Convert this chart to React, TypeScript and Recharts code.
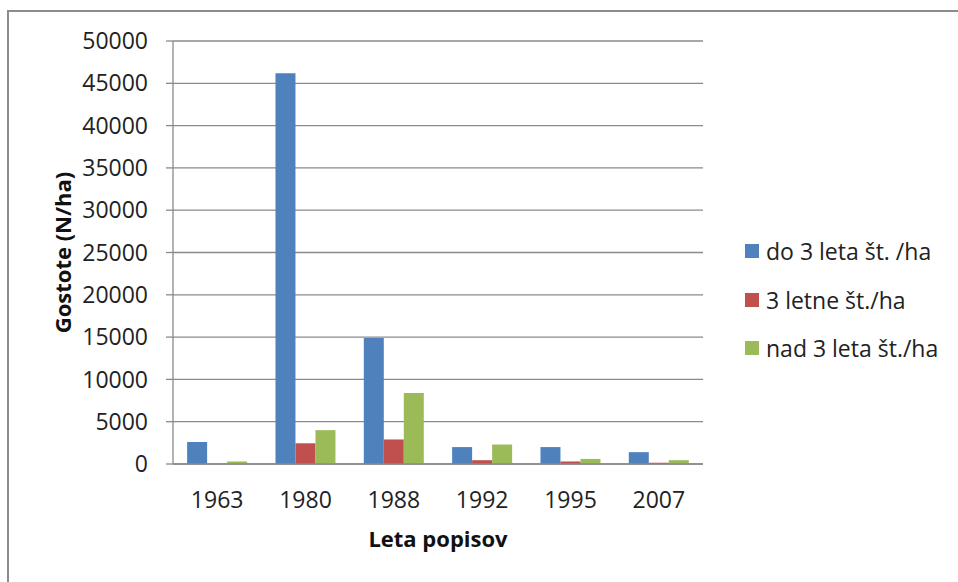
import React from "react";
import { BarChart, Bar, XAxis, YAxis, CartesianGrid, Legend, Label } from "recharts";

const years = ["1963", "1980", "1988", "1992", "1995", "2007"];
const do3 = [2600, 46200, 14900, 2000, 2000, 1400];
const letne3 = [0, 2450, 2900, 450, 300, 150];
const nad3 = [300, 4000, 8400, 2300, 600, 450];
const yTicks = [0, 5000, 10000, 15000, 20000, 25000, 30000, 35000, 40000, 45000, 50000];

const seriesNames = ["do 3 leta št. /ha", "3 letne št./ha", "nad 3 leta št./ha"];
const colors = ["#4F81BD", "#C0504D", "#9BBB59"];

const data = years.map((y, i) => ({ year: y, a: do3[i], b: letne3[i], c: nad3[i] }));

const FONT = "'Open Sans', sans-serif";
const GRID = "#8a8a8a";

const LegendContent = () => (
  <div style={{ fontFamily: FONT, fontSize: 23, color: "#222" }}>
    {seriesNames.map((n, i) => (
      <div key={n} style={{ display: "flex", alignItems: "center", height: 48.5 }}>
        <span style={{ display: "inline-block", width: 14, height: 14, background: colors[i], marginRight: 7 }} />
        <span style={{ whiteSpace: "nowrap" }}>{n}</span>
      </div>
    ))}
  </div>
);

const YTitle = (props: any) => {
  const vb = props.viewBox || { x: 0, y: 0, width: 0, height: 0 };
  const cx = vb.x + 62;
  const cy = vb.y + vb.height / 2;
  return (
    <text
      x={cx}
      y={cy}
      transform={`rotate(-90, ${cx}, ${cy})`}
      textAnchor="middle"
      dominantBaseline="central"
      style={{ fontFamily: FONT, fontSize: 22, fontWeight: 700, fill: "#111" }}
    >
      Gostote (N/ha)
    </text>
  );
};

export default function App() {
  return (
    <div style={{ position: "absolute", left: 0, top: 0, width: 958, height: 582, background: "#fff", overflow: "hidden" }}>
      <div
        style={{
          position: "absolute",
          left: 7,
          top: 10,
          width: 960,
          height: 600,
          borderTop: "2px solid #8c8c8c",
          borderLeft: "2px solid #8c8c8c",
        }}
      />
      <div style={{ position: "absolute", left: 0, top: 0 }}>
        <BarChart
          width={958}
          height={582}
          data={data}
          margin={{ top: 41, right: 255, left: 0, bottom: 0 }}
          barCategoryGap="16%"
          barGap={0}
          style={{ fontFamily: FONT }}
        >
          <CartesianGrid vertical={false} stroke={GRID} strokeWidth={1.3} />
          <XAxis
            dataKey="year"
            height={118}
            tickLine={false}
            tickSize={0}
            tickMargin={28}
            axisLine={{ stroke: GRID, strokeWidth: 1.3 }}
            tick={{ fill: "#222", fontSize: 23, fontFamily: FONT }}
            interval={0}
          >
            <Label
              value="Leta popisov"
              position="insideBottom"
              offset={35}
              style={{ fontFamily: FONT, fontSize: 22, fontWeight: 700, fill: "#111" }}
            />
          </XAxis>
          <YAxis
            width={173}
            domain={[0, 50000]}
            ticks={yTicks}
            interval={0}
            tickSize={7}
            tickMargin={18}
            tickLine={{ stroke: GRID, strokeWidth: 1.3 }}
            axisLine={{ stroke: GRID, strokeWidth: 1.3 }}
            tick={{ fill: "#222", fontSize: 23, fontFamily: FONT }}
          >
            <Label content={YTitle} />
          </YAxis>
          <Legend
            layout="vertical"
            align="center"
            verticalAnchor="middle"
            verticalAlign="middle"
            content={LegendContent}
            wrapperStyle={{ left: 745, top: 227, width: 210, height: 150 }}
          />
          <Bar dataKey="a" name={seriesNames[0]} fill={colors[0]} isAnimationActive={false} />
          <Bar dataKey="b" name={seriesNames[1]} fill={colors[1]} isAnimationActive={false} />
          <Bar dataKey="c" name={seriesNames[2]} fill={colors[2]} isAnimationActive={false} />
        </BarChart>
      </div>
    </div>
  );
}
